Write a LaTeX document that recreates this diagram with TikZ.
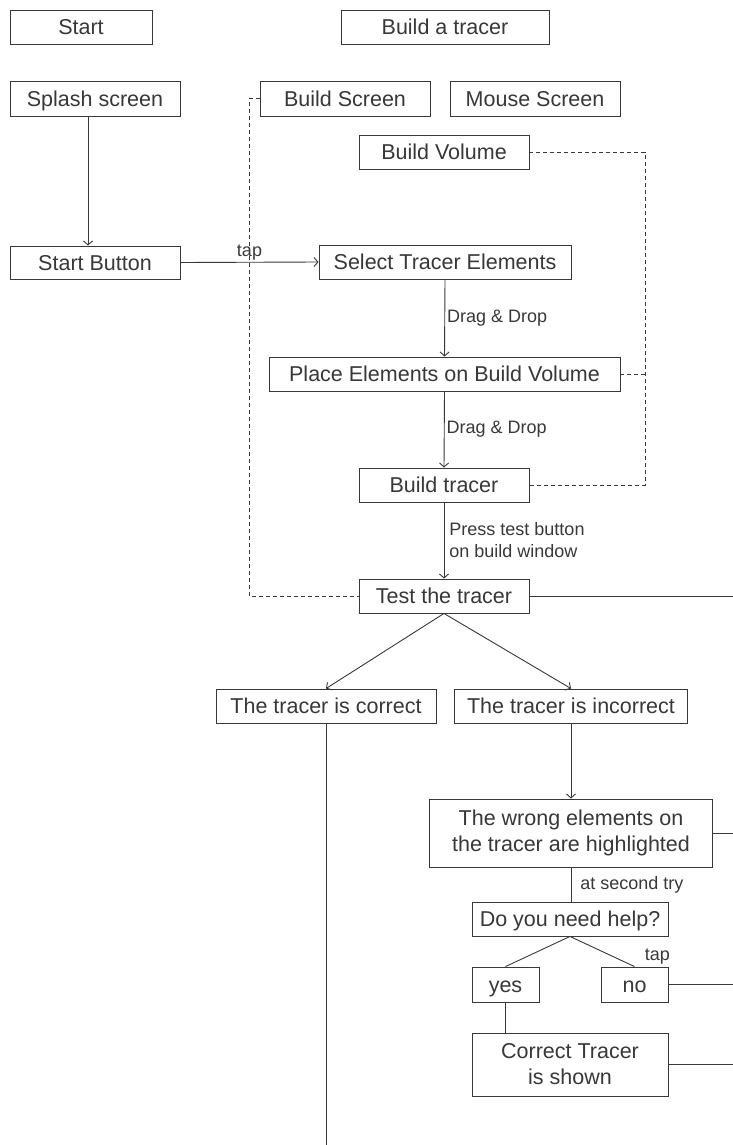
\documentclass[tikz,border=0pt]{standalone}
\usepackage{fontspec}
\setmainfont{Liberation Sans}
\usetikzlibrary{positioning,arrows.meta}
\definecolor{ink}{HTML}{383838}
\newcommand{\boxfont}{\fontsize{21.5}{26}\selectfont}
\newcommand{\lblfont}{\fontsize{18}{22}\selectfont}

\begin{document}
\begin{tikzpicture}[x=1pt,y=-1pt,color=ink,line width=0.9pt,
    >={Straight Barb[length=4pt,width=9pt]},
    frame/.style={rectangle,draw,fill=white,font=\boxfont,inner sep=0pt,minimum height=34pt,align=center},
    box/.style={frame,text height=15.5pt,text depth=0pt},
    lbl/.style={font=\lblfont,inner sep=2pt,align=left},
    dashline/.style={dash pattern=on 4pt off 3pt}]
	\useasboundingbox (0,0) rectangle (733,1145);
	\path (81,27) node(start)[box,minimum width=142pt]{Start}
	(445,27) node(title)[box,minimum width=208pt]{Build a tracer}
	(95,98.5) node(splash)[box,minimum width=170pt,minimum height=35pt]{Splash screen}
	(345,98.5) node(bscreen)[box,minimum width=170pt,minimum height=35pt]{Build Screen}
	(535,98.5) node(mscreen)[box,minimum width=170pt,minimum height=35pt]{Mouse Screen}
	(444,152) node(bvolume)[box,minimum width=170pt]{Build Volume}
	(95,262.5) node(startbtn)[box,minimum width=170pt,minimum height=33pt]{Start Button}
	(445,262) node(select)[box,minimum width=252pt]{Select Tracer Elements}
	(444.5,374) node(place)[box,minimum width=351pt]{Place Elements on Build Volume}
	(444,485) node(btracer)[box,minimum width=170pt]{Build tracer}
	(444,596) node(test)[box,minimum width=170pt]{Test the tracer}
	(326,706) node(correct)[box,minimum width=220pt]{The tracer is correct}
	(571,706) node(incorrect)[box,minimum width=233pt]{The tracer is incorrect}
	(571,833) node(wrong)[frame,minimum width=283pt,minimum height=68pt]{The wrong elements on\\the tracer are highlighted}
	(570,919) node(help)[box,minimum width=196pt]{Do you need help?}
	(505.5,984.5) node(yes)[box,minimum width=67pt,minimum height=35pt]{yes}
	(634.5,984.5) node(no)[box,minimum width=67pt,minimum height=35pt]{no}
	(570,1064.5) node(shown)[frame,minimum width=196pt,minimum height=63pt]{Correct Tracer\\is shown};
	\coordinate (leftbus) at (249,0);
	\coordinate (rightbus) at (645,0);
	\coordinate (edge) at (733,1145);
	\draw [dashline] (bscreen.west) -- (bscreen.west -| leftbus) |- (test.west);
	\draw [dashline] (bvolume.east) -- (bvolume.east -| rightbus) |- (btracer.east);
	\draw [dashline] (place.east) -- (place.east -| rightbus);
	\draw [->] ([xshift=-7pt]splash.south) -- ([xshift=-7pt]startbtn.north);
	\draw [->] (startbtn.east) -- (select.west) node[lbl,midway,above]{tap};
	\draw [->] (select.south) -- (place.north) node[lbl,midway,right]{Drag \& Drop};
	\draw [->] (place.south) -- (btracer.north) node[lbl,midway,right]{Drag \& Drop};
	\draw [->] (btracer.south) -- (test.north) node[lbl,midway,right=3pt]{Press test button\\on build window};
	\draw [->] (test.south) -- (correct.north);
	\draw [->] (test.south) -- (incorrect.north);
	\draw [->] (incorrect.south) -- (wrong.north);
	\draw (wrong.south) -- (wrong.south |- help.north) node[lbl,midway,right=7pt]{at second try};
	\draw (help.south) -- (yes.north);
	\draw (help.south) -- (no.north) node[lbl,pos=1,above right=0pt and 8pt]{tap};
	\draw (yes.south) -- (yes.south |- shown.north);
	\draw (test.east) -- (test.east -| edge);
	\draw (wrong.east) -- (wrong.east -| edge);
	\draw (no.east) -- (no.east -| edge);
	\draw (shown.east) -- (shown.east -| edge);
	\draw (correct.south) -- (correct.south |- edge);
\end{tikzpicture}
\end{document}
